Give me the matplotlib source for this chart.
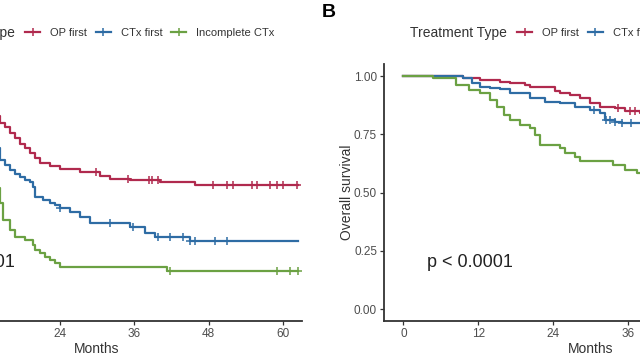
import numpy as np
import matplotlib
matplotlib.use("Agg")
from matplotlib import pyplot as plt
from matplotlib.lines import Line2D

plt.rcParams["font.family"] = ["Liberation Sans", "DejaVu Sans"]

GROUPS = ["OP first", "CTx first", "Incomplete CTx"]
COLORS = ["#B02A4E", "#2E6CA4", "#6BA143"]

# Panel A (progression-free) - step curves, times in months
a_op_t = [0, 3, 6, 9, 12, 14.3, 15.1, 15.9, 16.7, 17.5, 18.3, 19.2, 20.0, 20.8, 22.4, 24.0,
          27.2, 30.5, 32.1, 35.3, 40.2, 45.8, 62.5]
a_op_s = [1.0, 0.97, 0.93, 0.88, 0.83, 0.80, 0.78, 0.755, 0.735, 0.71, 0.69, 0.67, 0.65, 0.627,
          0.614, 0.60, 0.59, 0.57, 0.558, 0.554, 0.545, 0.532, 0.532]
a_op_cens = [29.8, 35.0, 38.4, 38.9, 39.8, 48.7, 51.0, 51.9, 55.0, 55.8, 57.9, 59.1, 60.0, 62.3]

a_ctx_t = [0, 3, 6, 9, 12, 14.3, 15.1, 15.9, 16.7, 17.5, 18.3, 19.2, 19.6, 20.0, 21.2, 22.4,
           23.2, 24.0, 25.6, 27.2, 28.8, 35.3, 37.7, 39.3, 45.0, 62.5]
a_ctx_s = [1.0, 0.93, 0.85, 0.77, 0.69, 0.64, 0.62, 0.597, 0.58, 0.567, 0.555, 0.545, 0.524,
           0.48, 0.468, 0.455, 0.445, 0.433, 0.415, 0.395, 0.369, 0.352, 0.326, 0.309, 0.293, 0.293]
a_ctx_cens = [24.0, 32.1, 35.8, 39.8, 41.8, 43.9, 45.0, 45.8, 49.0, 51.0]

a_inc_t = [0, 3, 6, 9, 12, 14.3, 14.8, 15.9, 16.7, 18.3, 19.6, 20.0, 20.8, 21.6, 22.4, 23.2,
           24.0, 41.3, 62.5]
a_inc_s = [1.0, 0.88, 0.75, 0.63, 0.52, 0.455, 0.384, 0.339, 0.309, 0.296, 0.275, 0.253, 0.24,
           0.223, 0.21, 0.197, 0.18, 0.163, 0.163]
a_inc_cens = [41.8, 59.0, 61.2, 62.5]

# Panel B (overall survival)
b_op_t = [0, 9.6, 12.3, 15.5, 17.1, 19.5, 20.3, 24.3, 25.1, 26.7, 28.3, 29.9, 31.5, 33.9,
          35.5, 37.9, 42.0]
b_op_s = [1.0, 0.991, 0.983, 0.976, 0.97, 0.96, 0.954, 0.937, 0.926, 0.918, 0.906, 0.885,
          0.868, 0.861, 0.851, 0.842, 0.842]
b_op_cens = [34.5, 36.3, 37.2]

b_ctx_t = [0, 9.5, 11.0, 12.3, 13.9, 15.5, 17.1, 20.3, 22.7, 25.1, 27.5, 29.9, 31.5, 32.3,
           33.9, 35.0, 42.0]
b_ctx_s = [1.0, 0.99, 0.97, 0.954, 0.948, 0.943, 0.926, 0.904, 0.89, 0.883, 0.868, 0.854,
           0.84, 0.811, 0.804, 0.80, 0.80]
b_ctx_cens = [30.5, 32.5, 33.2, 34.0, 35.0, 36.5]

b_inc_t = [0, 4.8, 8.5, 10.6, 12.3, 13.9, 15.1, 16.1, 17.1, 18.7, 20.3, 21.1, 21.9, 25.1,
           25.9, 27.5, 28.3, 33.6, 35.5, 37.5, 42.0]
b_inc_s = [1.0, 0.99, 0.961, 0.94, 0.927, 0.897, 0.867, 0.833, 0.811, 0.79, 0.777, 0.747,
           0.704, 0.691, 0.668, 0.654, 0.636, 0.618, 0.597, 0.582, 0.582]
b_inc_cens = []

x_ticks = [0, 12, 24, 36, 48, 60]
y_ticks = [0.0, 0.25, 0.50, 0.75, 1.00]
y_tick_labels = ["0.00", "0.25", "0.50", "0.75", "1.00"]


def surv_at(times, surv, t):
    idx = np.searchsorted(times, t, side="right") - 1
    return np.asarray(surv)[idx]


def draw_panel(ax, curves, pval_x, ylabel):
    for (t, s, cens), color in zip(curves, COLORS):
        ax.step(t, s, where="post", color=color, lw=1.6)
        if cens:
            ax.plot(cens, surv_at(t, s, cens), ls="none", marker="+", ms=6,
                    mew=1.1, color=color)
    ax.set_xlim(-3.1, 63.1)
    ax.set_ylim(-0.05, 1.05)
    ax.set_xticks(x_ticks)
    ax.set_yticks(y_ticks)
    ax.set_yticklabels(y_tick_labels)
    for side in ["top", "right"]:
        ax.spines[side].set_visible(False)
    for side in ["left", "bottom"]:
        ax.spines[side].set_linewidth(1.3)
        ax.spines[side].set_color("#333333")
    ax.tick_params(length=3, width=0.9, color="#333333", labelcolor="#4d4d4d",
                   labelsize=8.5, pad=2)
    ax.set_xlabel("Months", fontsize=10, color="#333333", labelpad=2)
    ax.set_ylabel(ylabel, fontsize=10, color="#333333", labelpad=0)
    ax.text(pval_x, 0.2, "p < 0.0001", fontsize=13, color="#222222", va="center")


fig = plt.figure(figsize=(6.4, 3.6), dpi=100)
ax_a = fig.add_axes([-0.1684, 0.1092, 0.6403, 0.712])
ax_b = fig.add_axes([0.6, 0.1092, 0.645, 0.712])

draw_panel(ax_a, [(a_op_t, a_op_s, a_op_cens), (a_ctx_t, a_ctx_s, a_ctx_cens),
                  (a_inc_t, a_inc_s, a_inc_cens)], 2.9, "Progression-free survival")
draw_panel(ax_b, [(b_op_t, b_op_s, b_op_cens), (b_ctx_t, b_ctx_s, b_ctx_cens),
                  (b_inc_t, b_inc_s, b_inc_cens)], 3.8, "Overall survival")

handles = [Line2D([], [], color=c, lw=1.6, marker="+", ms=6, mew=1.1) for c in COLORS]
for x0 in [25, 517]:
    fig.legend(handles, GROUPS, loc="center left", bbox_to_anchor=(x0 / 640, 1 - 33 / 360),
               ncol=3, frameon=False, fontsize=8, handlelength=1.35, handletextpad=0.9,
               columnspacing=0.8, borderpad=0, borderaxespad=0, labelcolor="#333333")
    fig.text((x0 - 10) / 640, 1 - 33 / 360, "Treatment Type", ha="right", va="center",
             fontsize=10, color="#333333")

fig.text(322 / 640, 1 - 4 / 360, "B", ha="left", va="top", fontsize=14, fontweight="bold")

plt.savefig("out.png", dpi=100)
plt.close()
